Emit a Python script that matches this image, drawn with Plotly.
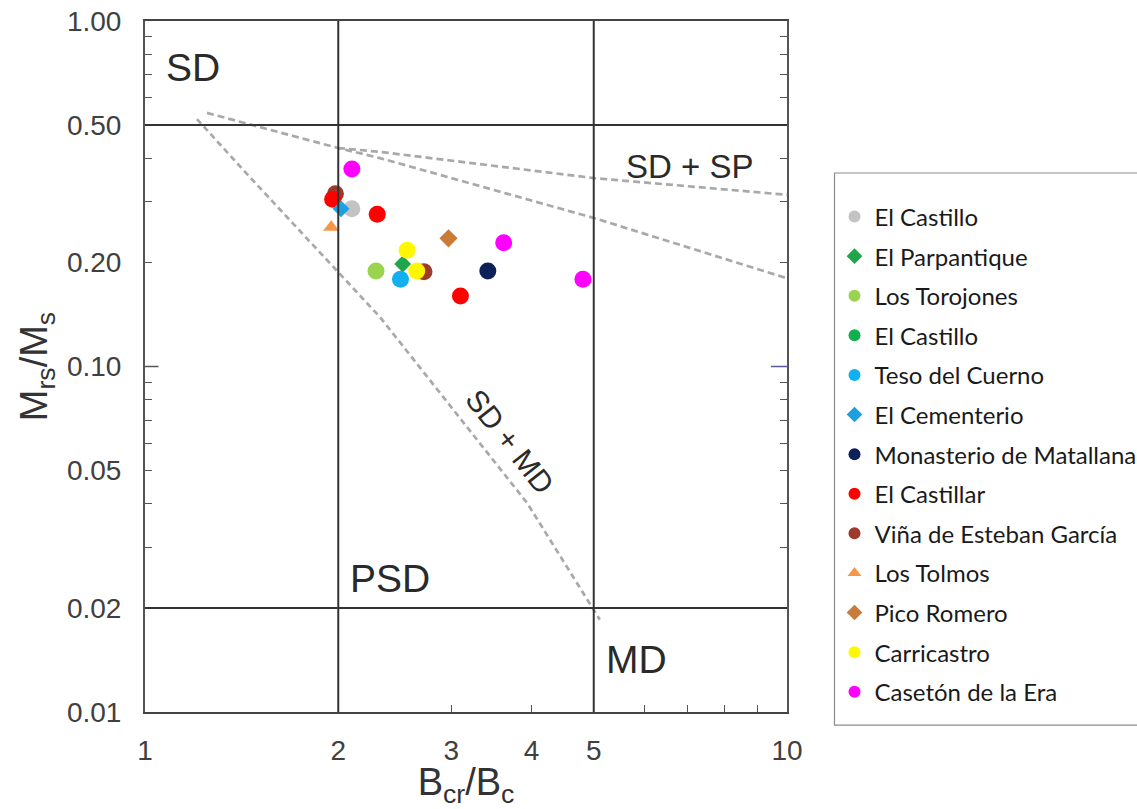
import plotly.graph_objects as go

# ---- site measurements: Bcr/Bc (x) and Mrs/Ms (y) ----
sites = [
    "El Castillo", "El Parpantique", "Los Torojones", "El Castillo ", "Teso del Cuerno",
    "El Cementerio", "Monasterio de Matallana", "El Castillar", "Viña de Esteban García",
    "Los Tolmos", "Pico Romero", "Carricastro", "Casetón de la Era",
]
bcr_bc = {
    "El Castillo": [2.10],
    "El Parpantique": [2.52],
    "Los Torojones": [2.29],
    "El Castillo ": [],
    "Teso del Cuerno": [2.50],
    "El Cementerio": [2.02],
    "Monasterio de Matallana": [3.42],
    "El Castillar": [1.96, 2.30, 3.10],
    "Viña de Esteban García": [1.98, 2.72],
    "Los Tolmos": [1.95],
    "Pico Romero": [2.97],
    "Carricastro": [2.56, 2.65],
    "Casetón de la Era": [2.10, 3.62, 4.81],
}
mrs_ms = {
    "El Castillo": [0.286],
    "El Parpantique": [0.198],
    "Los Torojones": [0.189],
    "El Castillo ": [],
    "Teso del Cuerno": [0.179],
    "El Cementerio": [0.286],
    "Monasterio de Matallana": [0.189],
    "El Castillar": [0.305, 0.276, 0.160],
    "Viña de Esteban García": [0.316, 0.188],
    "Los Tolmos": [0.253],
    "Pico Romero": [0.235],
    "Carricastro": [0.217, 0.189],
    "Casetón de la Era": [0.373, 0.228, 0.179],
}

# ---- Day-plot domain boundaries and mixing curves ----
sd_md_x = [1.205, 1.447, 2.323, 3.936, 5.11]
sd_md_y = [0.520, 0.358, 0.139, 0.0403, 0.0185]
sd_sp_low_x = [1.249, 1.998, 2.323, 5.005, 10.0]
sd_sp_low_y = [0.542, 0.429, 0.401, 0.269, 0.180]
sd_sp_up_x = [1.998, 2.323, 5.005, 10.0]
sd_sp_up_y = [0.429, 0.418, 0.351, 0.314]
bcr_limits = [2, 5]
mrs_limits = [0.5, 0.02]

x_ticks = [1, 2, 3, 4, 5, 10]
x_minor = [6, 7, 8, 9]
y_ticks = [0.01, 0.02, 0.05, 0.10, 0.20, 0.50, 1.00]
y_tick_text = ["0.01", "0.02", "0.05", "0.10", "0.20", "0.50", "1.00"]
y_minor = [0.03, 0.04, 0.06, 0.07, 0.08, 0.09, 0.3, 0.4, 0.6, 0.7, 0.8, 0.9]

style = {
    "El Castillo": ("circle", "#C3C3C3", 17),
    "El Parpantique": ("diamond", "#1FA64A", 13),
    "Los Torojones": ("circle", "#9AD34E", 17),
    "El Castillo ": ("circle", "#10B04E", 17),
    "Teso del Cuerno": ("circle", "#12B0EE", 17),
    "El Cementerio": ("diamond", "#1E9FE0", 13),
    "Monasterio de Matallana": ("circle", "#0E2058", 17),
    "El Castillar": ("circle", "#FF0000", 17),
    "Viña de Esteban García": ("circle", "#9E3A2A", 17),
    "Los Tolmos": ("triangle-up", "#F79646", 14),
    "Pico Romero": ("diamond", "#C97B3A", 14),
    "Carricastro": ("circle", "#FFF700", 17),
    "Casetón de la Era": ("circle", "#FF00FF", 17),
}

# drawing order (later on top); legend order follows the site list
draw_order = [
    "El Castillo", "El Parpantique", "Los Torojones", "El Castillo ", "Teso del Cuerno",
    "Monasterio de Matallana", "Viña de Esteban García", "El Castillar", "El Cementerio",
    "Los Tolmos", "Pico Romero", "Carricastro", "Casetón de la Era",
]

fig = go.Figure()

curve_color = "#A9A9A9"
for cx, cy, dash in [(sd_md_x, sd_md_y, "6px,4px"),
                     (sd_sp_low_x, sd_sp_low_y, "7px,4px"),
                     (sd_sp_up_x, sd_sp_up_y, "7px,4px")]:
    fig.add_trace(go.Scatter(x=cx, y=cy, mode="lines", showlegend=False, hoverinfo="skip",
                             line=dict(color=curve_color, width=2.7, dash=dash)))

for name in draw_order:
    sym, col, size = style[name]
    xs = bcr_bc[name] or [None]
    ys = mrs_ms[name] or [None]
    fig.add_trace(go.Scatter(
        x=xs, y=ys, mode="markers", name=name,
        legendgroup=name, legendrank=sites.index(name) + 1,
        marker=dict(symbol=sym, color=col, size=size, line=dict(width=0)),
    ))

# domain boundary lines
shapes = []
for xv in bcr_limits:
    shapes.append(dict(type="line", xref="x", yref="paper", x0=xv, x1=xv, y0=0, y1=1,
                       line=dict(color="#333333", width=2)))
for yv in mrs_limits:
    shapes.append(dict(type="line", xref="paper", yref="y", x0=0, x1=1, y0=yv, y1=yv,
                       line=dict(color="#333333", width=2)))
# longer decade ticks at 0.10
shapes.append(dict(type="line", xref="paper", yref="y", x0=0, x1=0.021, y0=0.1, y1=0.1,
                   line=dict(color="#555555", width=1.5)))
shapes.append(dict(type="line", xref="paper", yref="y", x0=0.975, x1=1, y0=0.1, y1=0.1,
                   line=dict(color="#5A5AA0", width=1.5)))
# legend frame
shapes.append(dict(type="rect", xref="paper", yref="paper",
                   x0=1.074, x1=1.62, y0=-0.019, y1=0.78,
                   line=dict(color="#8C8C8C", width=1.2), fillcolor="rgba(0,0,0,0)"))

label_font = dict(family="Liberation Sans, Arial, sans-serif", color="#2A2A2A")
annotations = [
    dict(x=0.0755, y=-0.134, text="SD", font=dict(size=39, **label_font)),
    dict(x=0.848, y=-0.421, text="SD + SP", font=dict(size=33, **label_font)),
    dict(x=0.381, y=-1.614, text="PSD", font=dict(size=39, **label_font)),
    dict(x=0.7656, y=-1.849, text="MD", font=dict(size=39, **label_font)),
    dict(x=0.5687, y=-1.216, text="SD + MD", textangle=52, font=dict(size=30, **label_font)),
]
for a in annotations:
    a.update(xref="x", yref="y", showarrow=False)

tick_font = dict(family="Liberation Sans, Arial, sans-serif", size=28, color="#404040")
title_font = dict(family="Liberation Sans, Arial, sans-serif", size=38, color="#333333")

fig.update_layout(
    width=1137, height=809,
    margin=dict(l=145, r=350, t=21, b=97, autoexpand=False),
    paper_bgcolor="white", plot_bgcolor="white",
    shapes=shapes, annotations=annotations,
    showlegend=True,
    legend=dict(
        x=1.074, xanchor="left", y=0.749, yanchor="top",
        bgcolor="rgba(0,0,0,0)", borderwidth=0,
        font=dict(family="Lato, Noto Sans, sans-serif", size=24, color="#1A1A1A"),
        itemsizing="constant", traceorder="grouped", tracegroupgap=5.4,
    ),
    xaxis=dict(
        type="log", range=[0, 1],
        tickvals=x_ticks, ticktext=[str(v) for v in x_ticks],
        ticks="inside", ticklen=7, tickwidth=1.2, tickcolor="#555555",
        minor=dict(tickvals=x_minor, ticks="inside", ticklen=7, tickwidth=1.2, tickcolor="#555555"),
        showgrid=False, zeroline=False,
        showline=True, linecolor="#444444", linewidth=2, mirror=True,
        tickfont=tick_font, ticklabelstandoff=12,
        title=dict(text="B<sub>cr</sub>/B<sub>c</sub>", font=title_font, standoff=10),
    ),
    yaxis=dict(
        type="log", range=[-2, 0],
        tickvals=y_ticks, ticktext=y_tick_text,
        ticks="inside", ticklen=7, tickwidth=1.2, tickcolor="#555555",
        minor=dict(tickvals=y_minor, ticks="inside", ticklen=7, tickwidth=1.2, tickcolor="#555555"),
        showgrid=False, zeroline=False,
        showline=True, linecolor="#555555", linewidth=2, mirror="ticks",
        tickfont=tick_font, ticklabelstandoff=16,
        title=dict(text="M<sub>rs</sub>/M<sub>s</sub>", font=title_font, standoff=8),
    ),
)

fig.write_html("out.html")
